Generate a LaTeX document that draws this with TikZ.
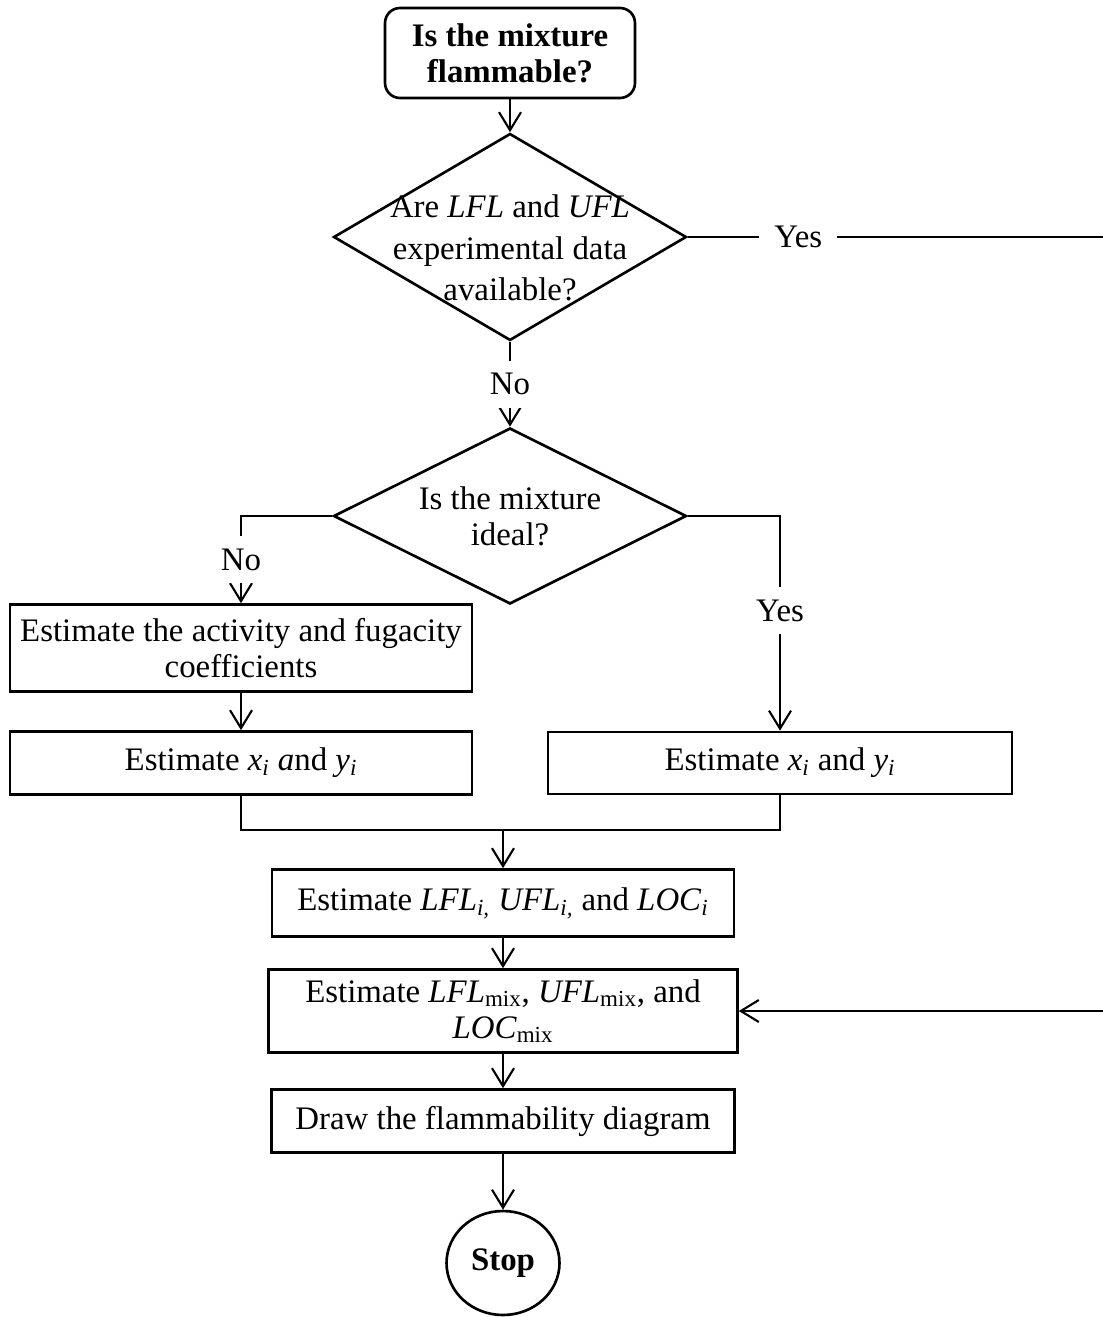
\documentclass[tikz,border=0pt]{standalone}
\usepackage{fontspec}
\setmainfont{Liberation Serif}
\usetikzlibrary{shapes.geometric,arrows.meta,positioning,calc}
\tikzset{
  >={Straight Barb[length=0.36cm,width=0.44cm,line width=1.2pt]},
  procbox/.style={rectangle, draw=black, line width=1.5pt, align=center, inner sep=2pt},
  startbox/.style={procbox, rounded corners=0.3cm},
  decision/.style={diamond, draw=black, line width=1.5pt, align=center, inner sep=-1cm, minimum width=7.06cm},
  stopnode/.style={ellipse, draw=black, line width=1.5pt, minimum width=2.26cm, minimum height=2.08cm, inner sep=0pt},
  lbl/.style={fill=white, inner xsep=0.3cm, inner ysep=0.25cm},
  line/.style={draw, line width=1.2pt}
}
\newcommand{\ivar}[1]{\textit{#1}}

\begin{document}
\begin{tikzpicture}[x=0.02cm,y=-0.02cm,font=\fontsize{18.7}{20.5}\selectfont]
    \useasboundingbox (0,0) rectangle (1102,1317);
    % Start and first questions
    \node[startbox, minimum width=5cm, minimum height=1.8cm] (flam) at (510,53)
        {\textbf{Is the mixture}\\\textbf{flammable?}};
    \node[decision, minimum height=4.14cm] (expdata) at (510,237)
        {\rule{0pt}{0.9cm}Are \ivar{LFL} and \ivar{UFL}\\[3pt]experimental data\\[3pt]available?};
    \node[decision, minimum height=3.52cm] (ideal) at (510,516) {Is the mixture\\ideal?};
    % Estimation of compositions
    \node[procbox, minimum width=9.24cm, minimum height=1.74cm] (coef) at (241,648)
        {Estimate the activity and fugacity\\coefficients};
    \node[procbox, minimum width=9.24cm, minimum height=1.26cm] (xyleft) at (241,763)
        {Estimate \ivar{x}\textsubscript{\ivar{i}} \ivar{a}nd \ivar{y}\textsubscript{\ivar{i}}};
    \node[procbox, minimum width=9.28cm, minimum height=1.24cm] (xyright) at (780,763)
        {Estimate \ivar{x}\textsubscript{\ivar{i}} and \ivar{y}\textsubscript{\ivar{i}}};
    % Limits and diagram
    \node[procbox, minimum width=9.24cm, minimum height=1.34cm] (ilimits) at (503,903)
        {Estimate \ivar{LFL}\textsubscript{\ivar{i,}} \ivar{UFL}\textsubscript{\ivar{i,}} and \ivar{LOC}\textsubscript{\ivar{i}}};
    \node[procbox, minimum width=9.38cm, minimum height=1.66cm] (mixbox) at (503,1011)
        {Estimate \ivar{LFL}\textsubscript{mix}, \ivar{UFL}\textsubscript{mix}, and\\\ivar{LOC}\textsubscript{mix}};
    \node[procbox, minimum width=9.26cm, minimum height=1.26cm] (draw) at (503,1121)
        {Draw the flammability diagram};
    \node[stopnode] (stop) at (503,1263) {\textbf{Stop}};

    \coordinate (loopc) at (1108,237);
    \coordinate (merge) at (503,830);

    % Connectors
    \draw[line,->] (flam) -- (expdata);
    \draw[line,->] (expdata.east) -- node[lbl, pos=0.263] {Yes} (loopc) |- (mixbox.east);
    \draw[line,->] (expdata.south) -- node[lbl] {No} (ideal.north);
    \draw[line,->] (ideal.west) -| node[lbl, pos=0.75] {No} (coef.north);
    \draw[line,->] (ideal.east) -| node[lbl, pos=0.72] {Yes} (xyright.north);
    \draw[line,->] (coef) -- (xyleft);
    \draw[line] (xyleft.south) |- (merge) -| (xyright.south);
    \draw[line,->] (merge) -- (ilimits.north);
    \draw[line,->] (ilimits) -- (mixbox);
    \draw[line,->] (mixbox) -- (draw);
    \draw[line,->] (draw) -- (stop);

\end{tikzpicture}
\end{document}
